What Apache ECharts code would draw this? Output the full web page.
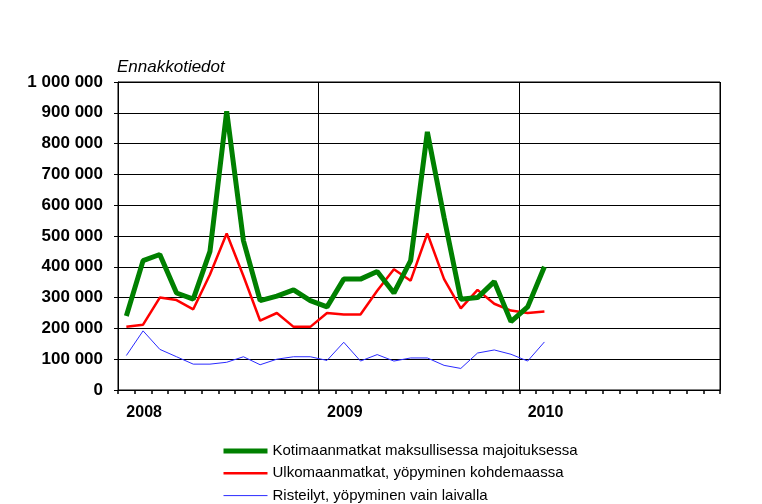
<!DOCTYPE html>
<html><head><meta charset="utf-8">
<script src="https://cdn.jsdelivr.net/npm/echarts@6/dist/echarts.min.js"></script>
<style>html,body{margin:0;padding:0;background:#fff}#c{width:762px;height:504px}</style>
</head><body><div id="c"></div>
<script>
var months = [];
var years = ['2008','2009','2010'];
for (var y = 0; y < 3; y++) for (var m = 1; m <= 12; m++) months.push(years[y] + '-' + (m < 10 ? '0' + m : m));
var seriesNames = ['Kotimaanmatkat maksullisessa majoituksessa','Ulkomaanmatkat, yöpyminen kohdemaassa','Risteilyt, yöpyminen vain laivalla'];
var kotimaan = [240000,420000,440000,315000,295000,450000,905000,485000,290000,305000,325000,290000,270000,360000,360000,385000,315000,420000,838000,560000,295000,300000,352000,222000,270000,400000];
var ulkomaan = [205000,212000,300000,292000,262000,375000,508000,370000,225000,250000,205000,205000,250000,245000,245000,322000,392000,355000,508000,360000,265000,325000,280000,258000,250000,255000];
var risteilyt = [112000,192000,132000,108000,84000,84000,90000,108000,82000,100000,108000,108000,96000,155000,94000,115000,94000,104000,104000,80000,70000,120000,130000,116000,94000,156000];
var yTicks = [0,100000,200000,300000,400000,500000,600000,700000,800000,900000,1000000];
var titleText = 'Ennakkotiedot';

var colors = ['#008000','#ff0000','#2a2aff'];
var widths = [5,2.5,1];
function fmt(v){ return String(v).replace(/\B(?=(\d{3})+(?!\d))/g, ' '); }
var FF = '"Liberation Sans", Arial, sans-serif';
var chart = echarts.init(document.getElementById('c'), null, {renderer:'canvas'});
chart.setOption({
  animation:false,
  backgroundColor:'#fff',
  title:{text:titleText,left:112,top:54,textStyle:{fontFamily:FF,fontSize:17,fontStyle:'italic',fontWeight:'normal',color:'#000'}},
  grid:{left:118,right:42,top:82,bottom:114,show:true,borderColor:'#000',borderWidth:1,containLabel:false},
  legend:{orient:'vertical',left:216,top:438.5,height:80,itemWidth:44,itemHeight:14,itemGap:7.3,
    itemStyle:{opacity:0,borderWidth:0},
    textStyle:{fontFamily:FF,fontSize:15,lineHeight:15,color:'#000'},
    data:seriesNames.map(function(n,i){return {name:n,lineStyle:{width:widths[i],color:colors[i]}};})},
  xAxis:{type:'category',data:months,boundaryGap:true,
    axisLine:{lineStyle:{color:'#000',width:1}},
    axisTick:{show:true,interval:0,length:4,lineStyle:{color:'#000',width:1.5}},
    axisLabel:{interval:0,margin:15,align:'left',fontFamily:FF,fontSize:16,fontWeight:'bold',color:'#000',
      formatter:function(v,i){return i%12===0 ? v.slice(0,4) : '';}},
    splitLine:{show:true,interval:function(i){return i%12===0;},lineStyle:{color:'#000',width:1}}
  },
  yAxis:{type:'value',min:yTicks[0],max:yTicks[yTicks.length-1],interval:yTicks[1]-yTicks[0],
    axisLine:{show:true,lineStyle:{color:'#000',width:1}},
    axisTick:{show:true,length:4,lineStyle:{color:'#000',width:1}},
    axisLabel:{margin:15,fontFamily:FF,fontSize:17,fontWeight:'bold',color:'#000',formatter:fmt},
    splitLine:{show:true,lineStyle:{color:'#000',width:1}}
  },
  series:[
    {name:seriesNames[0],type:'line',data:kotimaan,symbol:'none',lineStyle:{color:colors[0],width:widths[0]},itemStyle:{color:colors[0]},z:4},
    {name:seriesNames[1],type:'line',data:ulkomaan,symbol:'none',lineStyle:{color:colors[1],width:widths[1]},itemStyle:{color:colors[1]},z:3},
    {name:seriesNames[2],type:'line',data:risteilyt,symbol:'none',lineStyle:{color:colors[2],width:widths[2]},itemStyle:{color:colors[2]},z:2}
  ]
});
</script></body></html>
